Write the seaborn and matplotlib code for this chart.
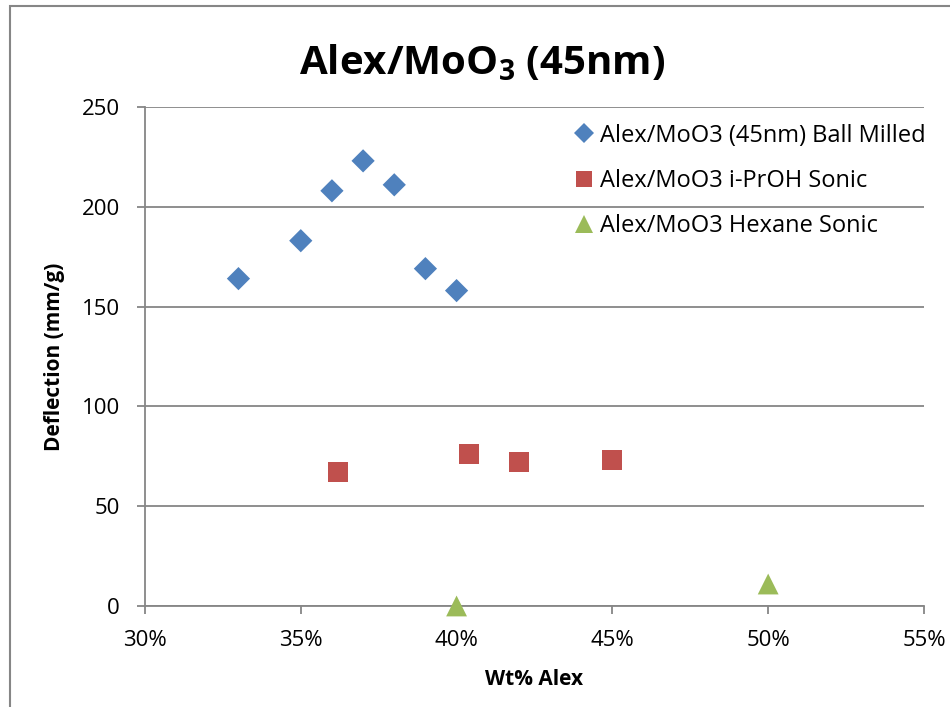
import pandas as pd
import seaborn as sns
import matplotlib.pyplot as plt
from matplotlib.ticker import PercentFormatter
from matplotlib.patches import Rectangle

# values
ball_x = [0.33, 0.35, 0.36, 0.37, 0.38, 0.39, 0.40]
ball_y = [164, 183, 208, 223, 211, 169, 158]
iproh_x = [0.362, 0.404, 0.42, 0.45]
iproh_y = [67, 76, 72, 73]
hexane_x = [0.40, 0.50]
hexane_y = [0, 11]

series_names = ['Alex/MoO3 (45nm) Ball Milled', 'Alex/MoO3 i-PrOH Sonic', 'Alex/MoO3 Hexane Sonic']
series_colors = ['#4F81BD', '#C0504D', '#9BBB59']
series_markers = ['D', 's', '^']
marker_sizes = [140, 205, 225]
x_ticks = [0.30, 0.35, 0.40, 0.45, 0.50, 0.55]
y_ticks = [0, 50, 100, 150, 200, 250]

df = pd.concat([
    pd.DataFrame({'wt': ball_x, 'defl': ball_y, 'series': series_names[0]}),
    pd.DataFrame({'wt': iproh_x, 'defl': iproh_y, 'series': series_names[1]}),
    pd.DataFrame({'wt': hexane_x, 'defl': hexane_y, 'series': series_names[2]}),
])

sns.set_theme(style="white")
plt.rcParams['font.family'] = ['Open Sans', 'DejaVu Sans']
plt.rcParams['mathtext.fontset'] = 'custom'
plt.rcParams['mathtext.rm'] = 'Open Sans'
plt.rcParams['mathtext.bf'] = 'Open Sans:bold'
plt.rcParams['text.color'] = 'black'
plt.rcParams['axes.labelcolor'] = 'black'

fig = plt.figure(figsize=(9.5, 7.07), dpi=100)
ax = fig.add_axes([0.1526, 0.1429, 0.82, 0.7058])

sns.scatterplot(data=df, x='wt', y='defl', hue='series', style='series', size='series',
                palette=dict(zip(series_names, series_colors)),
                markers=dict(zip(series_names, series_markers)),
                sizes=dict(zip(series_names, marker_sizes)),
                edgecolor='none', linewidth=0, ax=ax, zorder=3)
for coll in ax.collections:
    coll.set_clip_on(False)

ax.set_xlim(0.30, 0.55)
ax.set_ylim(0, 250)
ax.set_xticks(x_ticks)
ax.set_yticks(y_ticks)
ax.xaxis.set_major_formatter(PercentFormatter(1.0, decimals=0))
ax.yaxis.grid(True, color='#868686', linewidth=1.3)
ax.xaxis.grid(False)
for side in ['top', 'right']:
    ax.spines[side].set_visible(False)
for side in ['left', 'bottom']:
    ax.spines[side].set_color('#868686')
    ax.spines[side].set_linewidth(1.3)
ax.tick_params(axis='both', colors='#868686', labelcolor='black', labelsize=16,
               direction='out', length=6, width=1.3, bottom=True, left=True)
ax.tick_params(axis='x', pad=11)
ax.tick_params(axis='y', pad=12)

ax.set_xlabel('Wt% Alex', fontsize=15, fontweight='bold', labelpad=13, color='black')
ax.set_ylabel('Deflection (mm/g)', fontsize=15, fontweight='bold', labelpad=12, color='black')
fig.text(0.507, 0.911, r'Alex/MoO$_\mathbf{3}$ (45nm)', fontsize=29, fontweight='bold',
         ha='center', va='center', color='black')

leg = ax.legend(loc='upper right', bbox_to_anchor=(1.02, 0.995), frameon=False,
                fontsize=17, handletextpad=0.0, handlelength=1.3, labelspacing=0.9,
                borderaxespad=0.2, markerscale=0.85, labelcolor='black')

fig.patches.append(Rectangle((0.011, -0.1), 1.2, 1.092, transform=fig.transFigure,
                             fill=False, edgecolor='#868686', linewidth=1.5))

fig.savefig('out.png', dpi=100)
